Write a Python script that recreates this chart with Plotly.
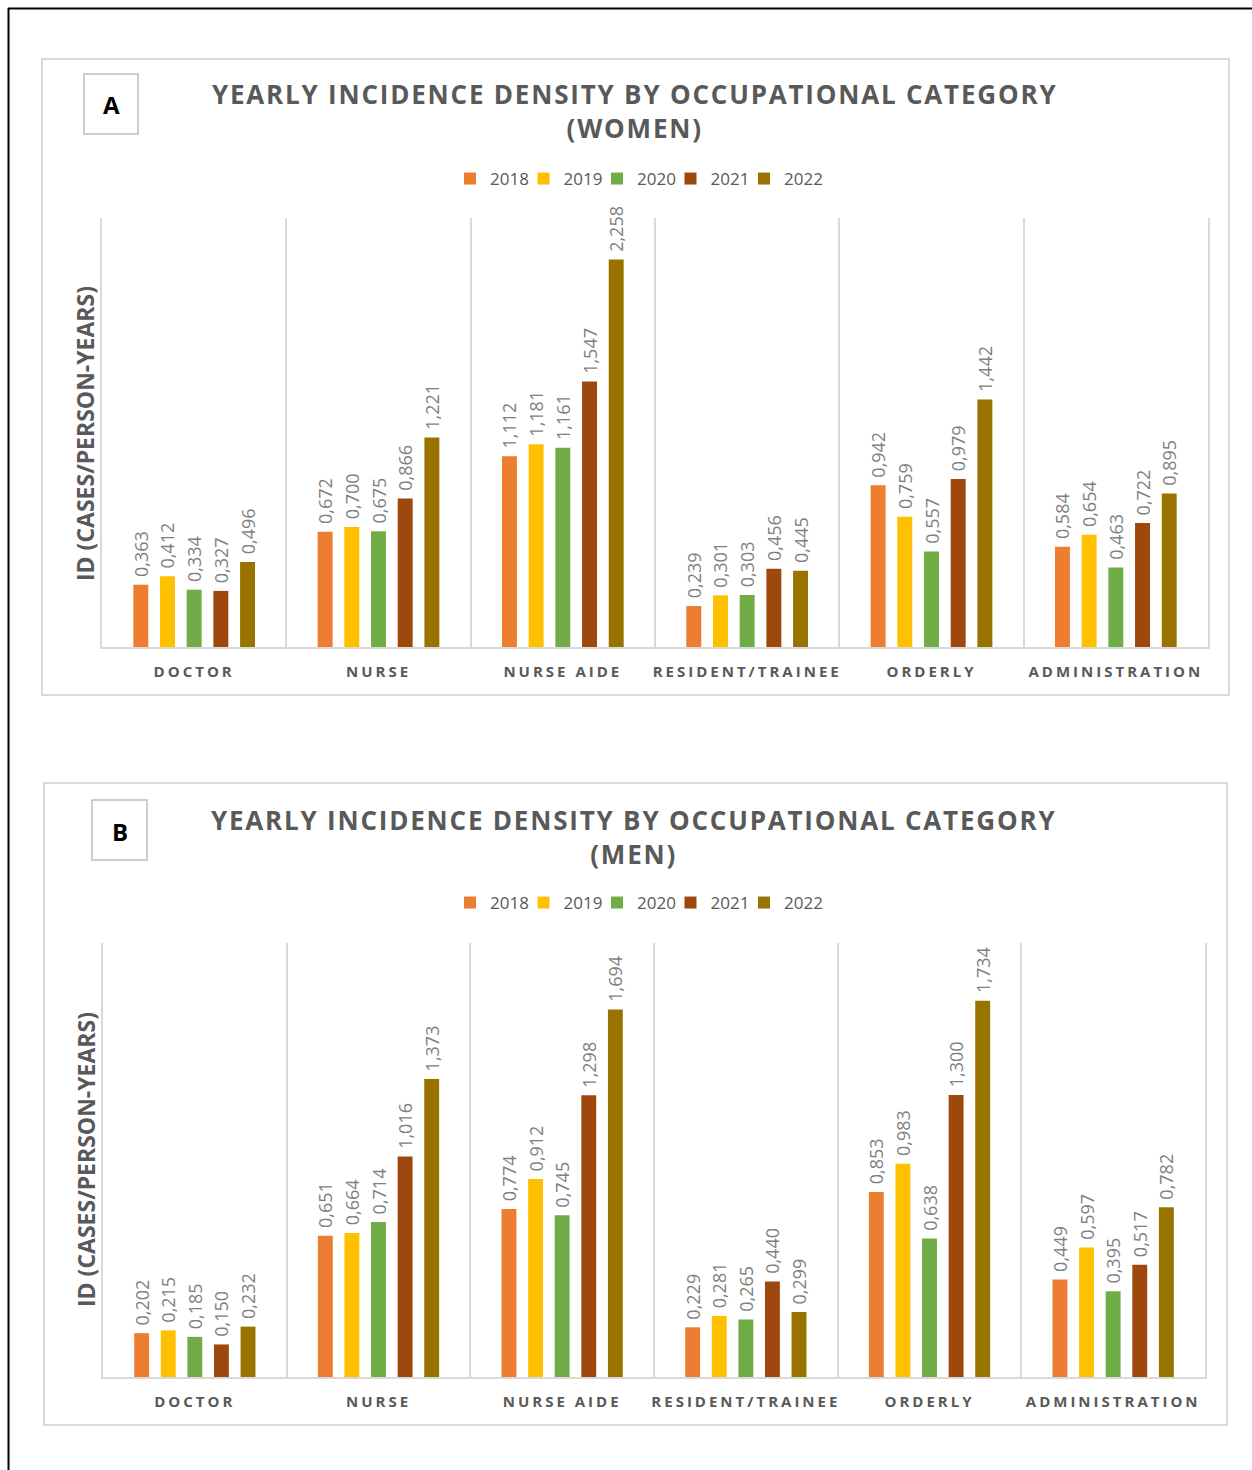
import plotly.graph_objects as go

# ---- data -------------------------------------------------------------
categories = ["DOCTOR", "NURSE", "NURSE AIDE", "RESIDENT/TRAINEE", "ORDERLY", "ADMINISTRATION"]
years = ["2018", "2019", "2020", "2021", "2022"]
year_colors = ["#ED7D31", "#FFC000", "#70AD47", "#9E480E", "#997300"]

# Incidence density, women (cases / person-years)
women_2018 = [0.363, 0.672, 1.112, 0.239, 0.942, 0.584]
women_2019 = [0.412, 0.700, 1.181, 0.301, 0.759, 0.654]
women_2020 = [0.334, 0.675, 1.161, 0.303, 0.557, 0.463]
women_2021 = [0.327, 0.866, 1.547, 0.456, 0.979, 0.722]
women_2022 = [0.496, 1.221, 2.258, 0.445, 1.442, 0.895]

# Incidence density, men (cases / person-years)
men_2018 = [0.202, 0.651, 0.774, 0.229, 0.853, 0.449]
men_2019 = [0.215, 0.664, 0.912, 0.281, 0.983, 0.597]
men_2020 = [0.185, 0.714, 0.745, 0.265, 0.638, 0.395]
men_2021 = [0.150, 1.016, 1.298, 0.440, 1.300, 0.517]
men_2022 = [0.232, 1.373, 1.694, 0.299, 1.734, 0.782]

women_series = [women_2018, women_2019, women_2020, women_2021, women_2022]
men_series = [men_2018, men_2019, men_2020, men_2021, men_2022]

W, H = 1252, 1470
TITLE = "YEARLY INCIDENCE DENSITY BY OCCUPATIONAL CATEGORY"
GREY_TXT = "#595959"
LABEL_TXT = "#7F7F7F"
LINE_GREY = "#D9D9D9"


def px_x(x):
    return x / W


def px_y(y):
    return 1 - y / H


fig = go.Figure()

panels = [
    dict(series=women_series, xa="x", ya="y", legend="legend"),
    dict(series=men_series, xa="x2", ya="y2", legend="legend2"),
]

for p in panels:
    for yr, col, vals in zip(years, year_colors, p["series"]):
        fig.add_trace(go.Bar(
            x=categories, y=vals, name=yr,
            marker=dict(color=col, line=dict(width=0)),
            xaxis=p["xa"], yaxis=p["ya"], legend=p["legend"],
            # leading no-break space keeps the label clear of the bar top
            texttemplate="\u00a0%{y:.3f}", textposition="outside", textangle=-90,
            constraintext="none",
            outsidetextfont=dict(family="Open Sans", size=18, color=LABEL_TXT),
            cliponaxis=False, hoverinfo="skip",
        ))

xaxis_common = dict(
    type="category", tickson="boundaries", showgrid=True, gridcolor=LINE_GREY,
    gridwidth=1.5, showline=True, linecolor=LINE_GREY, linewidth=2,
    ticks="", ticklabelstandoff=10, fixedrange=True,
    tickfont=dict(family="Open Sans", size=15, color=GREY_TXT, weight="bold"),
)
yaxis_common = dict(
    showgrid=False, zeroline=False, showticklabels=False, ticks="",
    showline=True, mirror=True, linecolor=LINE_GREY, linewidth=1.5, fixedrange=True,
)

legend_common = dict(
    orientation="h", xanchor="center", yanchor="middle",
    font=dict(family="Open Sans", size=17, color=GREY_TXT),
    bgcolor="rgba(0,0,0,0)", itemwidth=30, entrywidth=28.5, entrywidthmode="pixels",
    itemclick=False, itemdoubleclick=False,
)

fig.update_layout(
    width=W, height=H, margin=dict(l=0, r=0, t=0, b=0),
    paper_bgcolor="white", plot_bgcolor="white",
    separators=",.", barmode="group", bargap=0.276, bargroupgap=0.44,
    showlegend=True,
    xaxis=dict(domain=[px_x(102), px_x(1208)], anchor="y", **xaxis_common),
    yaxis=dict(domain=[px_y(647), px_y(218)], anchor="x", range=[0, 2.5], **yaxis_common),
    xaxis2=dict(domain=[px_x(103), px_x(1205)], anchor="y2", **xaxis_common),
    yaxis2=dict(domain=[px_y(1377), px_y(943)], anchor="x2", range=[0, 2.0], **yaxis_common),
    legend=dict(x=px_x(634), y=px_y(179), **legend_common),
    legend2=dict(x=px_x(634), y=px_y(903), **legend_common),
)

shapes = []
annotations = []

# outer frame (top and left edges)
shapes.append(dict(type="line", xref="paper", yref="paper", x0=px_x(8), x1=px_x(1260),
                   y0=px_y(8.5), y1=px_y(8.5), line=dict(color="black", width=2)))
shapes.append(dict(type="line", xref="paper", yref="paper", x0=px_x(8.5), x1=px_x(8.5),
                   y0=px_y(8), y1=px_y(1480), line=dict(color="black", width=2)))

panel_frames = [
    dict(box=(42, 59, 1229, 695), letter="A", lbox=(84, 74, 138, 134),
         sub="(WOMEN)", title_xy=(635, 111.5), ytitle_xy=(85, 433)),
    dict(box=(44, 783, 1227, 1425), letter="B", lbox=(92, 800, 147, 860),
         sub="(MEN)", title_xy=(634, 836.5), ytitle_xy=(86, 1160)),
]

for pf in panel_frames:
    x0, y0, x1, y1 = pf["box"]
    shapes.append(dict(type="rect", xref="paper", yref="paper", layer="below",
                       x0=px_x(x0), x1=px_x(x1), y0=px_y(y1), y1=px_y(y0),
                       line=dict(color=LINE_GREY, width=2)))
    lx0, ly0, lx1, ly1 = pf["lbox"]
    shapes.append(dict(type="rect", xref="paper", yref="paper",
                       x0=px_x(lx0), x1=px_x(lx1), y0=px_y(ly1), y1=px_y(ly0),
                       line=dict(color="#BFBFBF", width=1.5), fillcolor="white"))
    annotations.append(dict(
        text=f"<b>{pf['letter']}</b>", xref="paper", yref="paper",
        x=px_x((lx0 + lx1) / 2), y=px_y((ly0 + ly1) / 2 + 1),
        xanchor="center", yanchor="middle", showarrow=False,
        font=dict(family="Open Sans", size=24, color="black"),
    ))
    tx, ty = pf["title_xy"]
    annotations.append(dict(
        text=f"{TITLE}<br>{pf['sub']}", xref="paper", yref="paper",
        x=px_x(tx), y=px_y(ty), xanchor="center", yanchor="middle",
        showarrow=False, align="center",
        font=dict(family="Open Sans", size=26, color=GREY_TXT, weight="bold"),
    ))
    yx, yy = pf["ytitle_xy"]
    annotations.append(dict(
        text="ID (CASES/PERSON-YEARS)", xref="paper", yref="paper",
        x=px_x(yx), y=px_y(yy), xanchor="center", yanchor="middle",
        textangle=-90, showarrow=False,
        font=dict(family="Open Sans", size=23, color=GREY_TXT, weight="bold"),
    ))

fig.update_layout(shapes=shapes, annotations=annotations)

# letter-spaced category labels and panel titles; compact legend entries
post_js = """
var st = document.createElement('style');
st.textContent = '.xtick text, .x2tick text{letter-spacing:3px;}' +
  '.annotation[data-index="1"] text, .annotation[data-index="4"] text{letter-spacing:1.8px;}' +
  '.legend .scrollbox, .legend2 .scrollbox, g[class^="legend"] .scrollbox{clip-path:none !important;}';
document.head.appendChild(st);
"""

fig.write_html("out.html", post_script=post_js)
